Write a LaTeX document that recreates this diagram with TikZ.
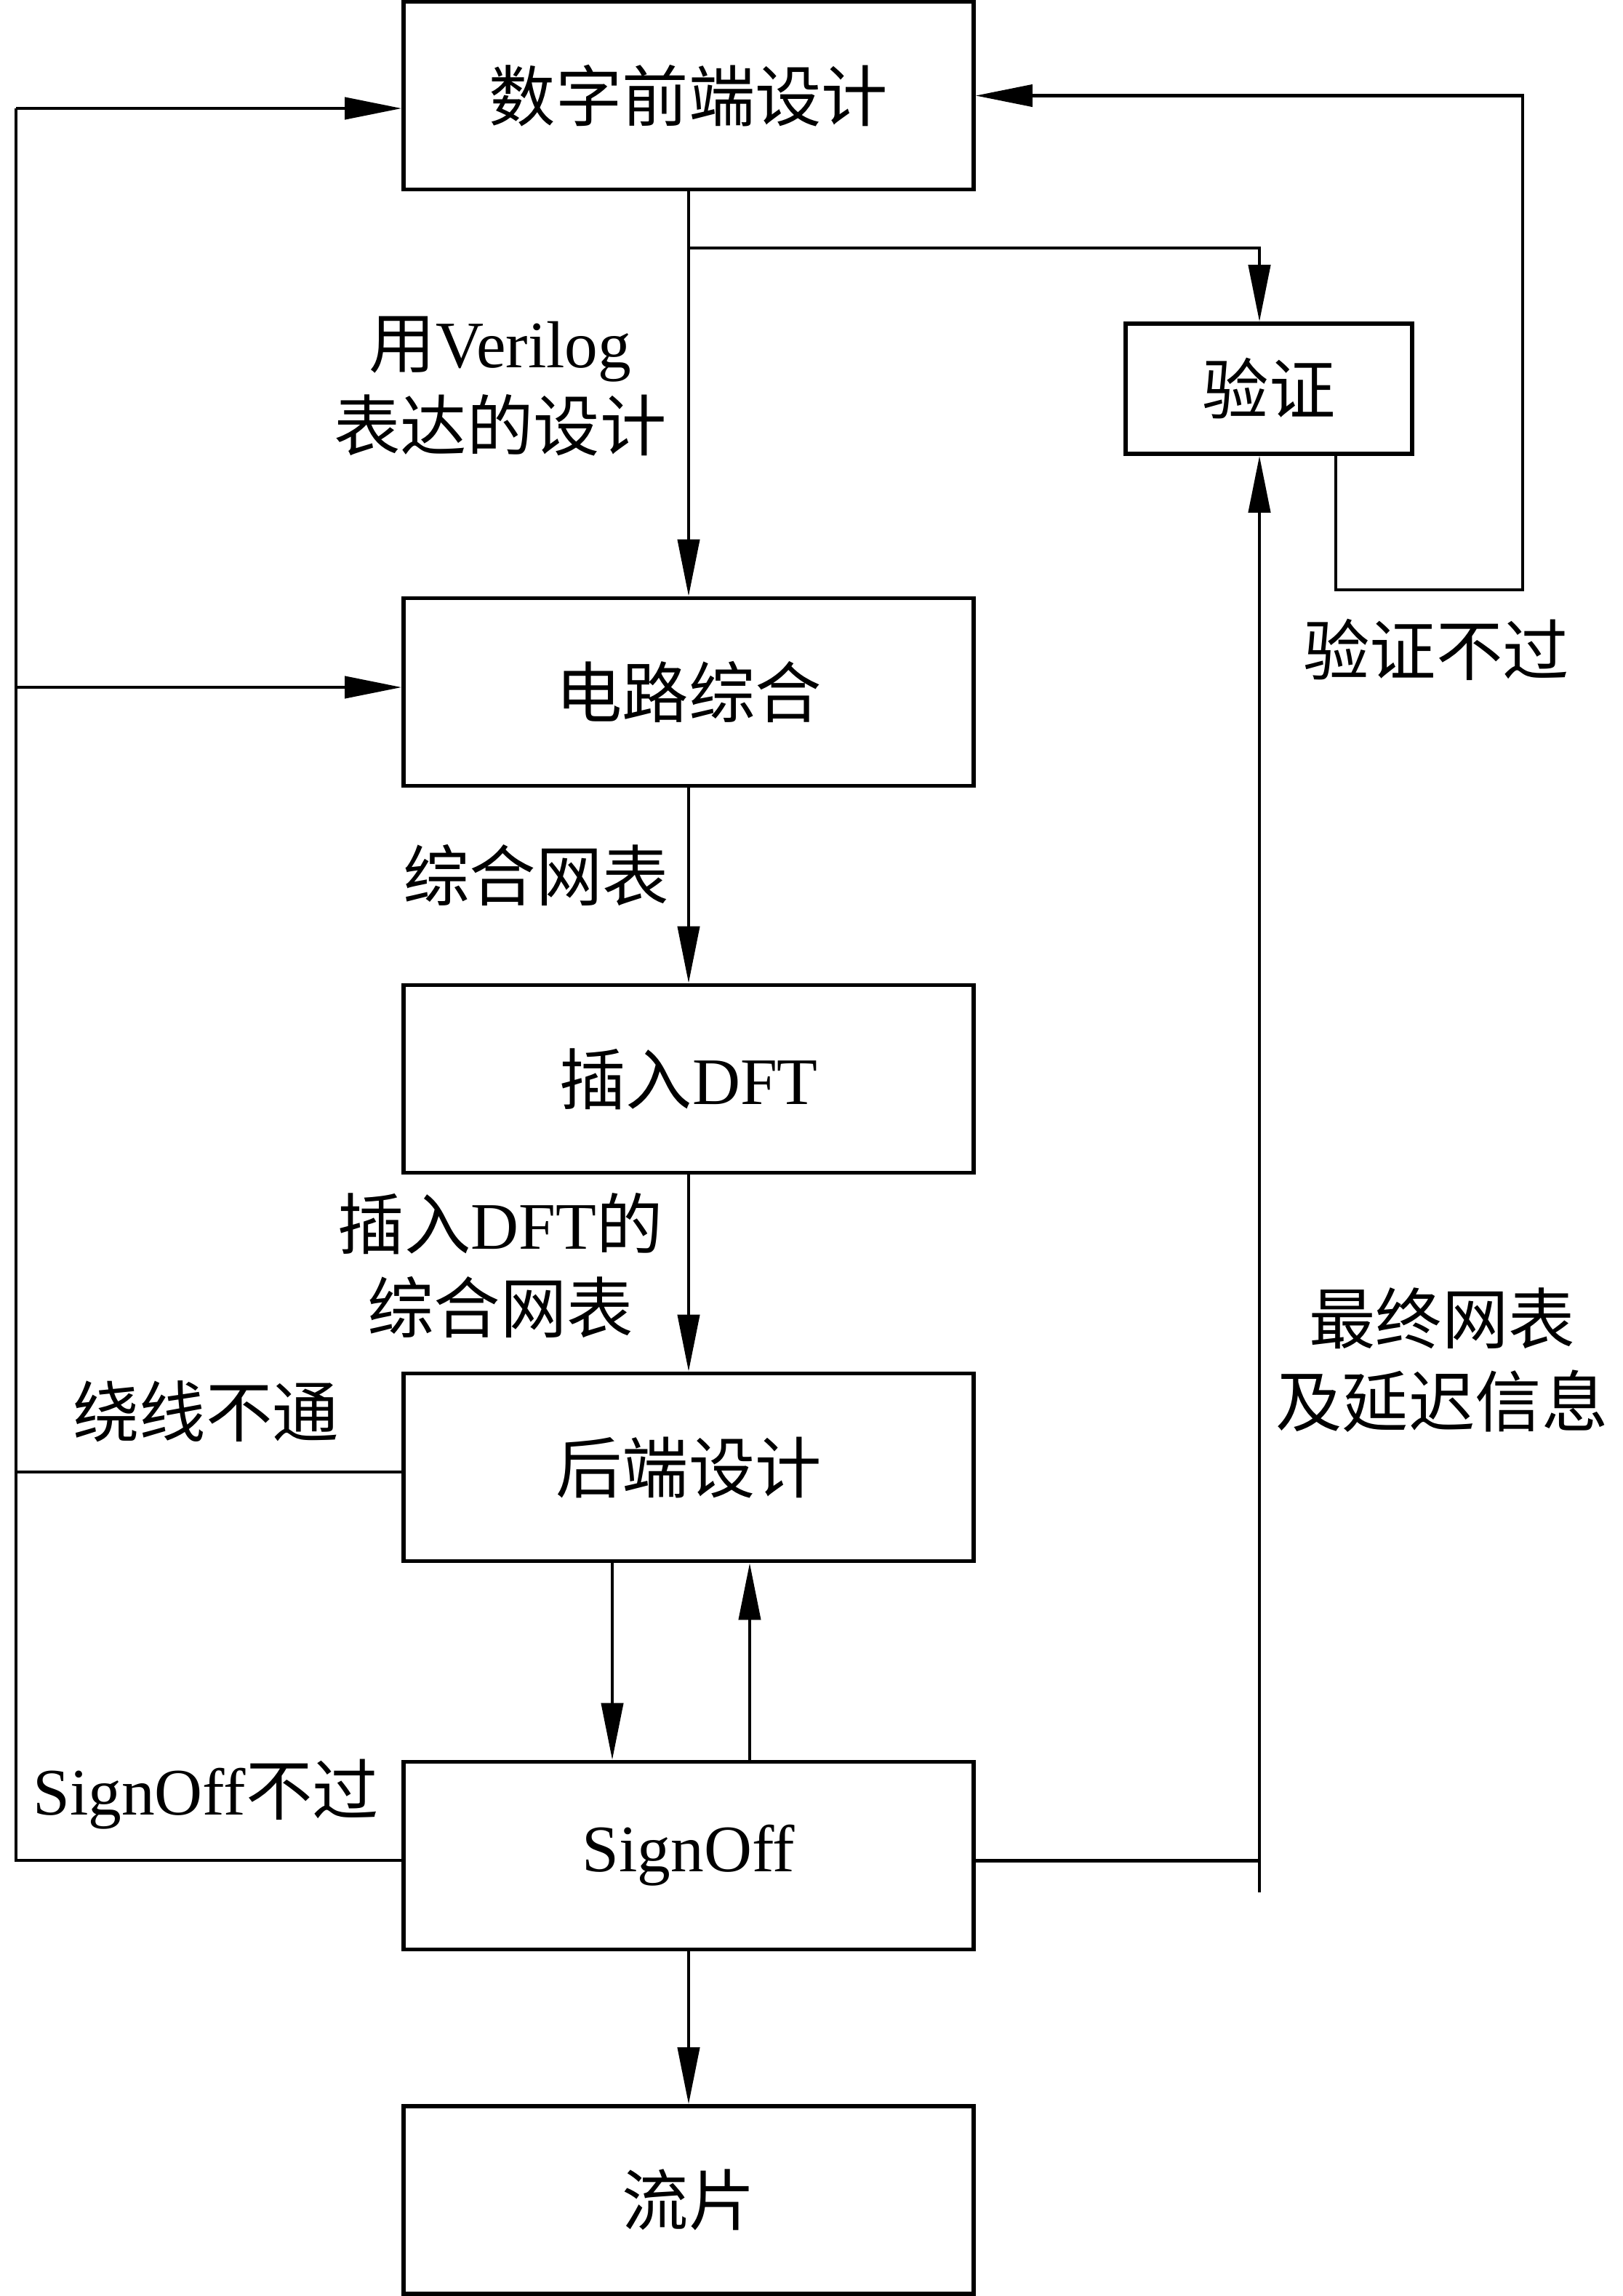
\documentclass[tikz,border=0pt]{standalone}
\usepackage{fontspec}
\setmainfont{Liberation Serif}
\newfontfamily\cjkfont{Noto Sans CJK SC}
\newcommand\zhc[1]{{\cjkfont #1}}
\usetikzlibrary{arrows.meta,calc}
\begin{document}
\begin{tikzpicture}[x=1cm,y=1cm,
  every node/.style={font=\fontsize{26pt}{32.5pt}\selectfont},
  box/.style={draw, line width=1.6pt, minimum width=7.84cm, minimum height=2.58cm, inner sep=0pt},
  conn/.style={line width=1.2pt},
  arr/.style={line width=1.2pt, -{Triangle[length=0.78cm,width=0.30cm]}},
  lbl/.style={align=center, inner sep=0pt}]
\useasboundingbox (0,0) rectangle (22.32,-31.57);
% boxes
\node[box] (fe) at (9.47,-1.315) {\zhc{数字前端设计}};
\node[box] (syn) at (9.47,-9.515) {\zhc{电路综合}};
\node[box] (dft) at (9.47,-14.835) {\zhc{插入}DFT};
\node[box] (be) at (9.47,-20.175) {\zhc{后端设计}};
\node[box] (so) at (9.47,-25.515) {SignOff};
\node[box] (tape) at (9.47,-30.25) {\zhc{流片}};
\node[box, minimum width=3.94cm, minimum height=1.79cm] (ver) at (17.45,-5.345) {\zhc{验证}};
% helper coordinates
\coordinate (lx) at (0.22,0);
\coordinate (vx) at (17.32,0);
\coordinate (br) at (9.47,-3.41);
\coordinate (vl) at (20.94,-8.11);
\coordinate (lt) at (0.22,-1.49);
\coordinate (vb) at (17.32,-26.02);
\coordinate (bew) at ([yshift=-0.065cm]be.west);
\coordinate (sow) at ([yshift=-0.065cm]so.west);
\coordinate (synw) at ([yshift=0.065cm]syn.west);
\coordinate (soe) at ([yshift=-0.07cm]so.east);
% main flow
\draw[arr] (fe.south) -- (syn.north);
\draw[arr] (br) -| (vx |- ver.north);
\draw[arr] ([xshift=0.92cm]ver.south) |- (vl) |- (fe.east);
\draw[arr] (syn.south) -- (dft.north);
\draw[arr] (dft.south) -- (be.north);
\draw[arr] ([xshift=-1.05cm]be.south) -- ([xshift=-1.05cm]so.north);
\draw[arr] ([xshift=0.84cm]so.north) -- ([xshift=0.84cm]be.south);
\draw[arr] (so.south) -- (tape.north);
% left feedback bus
\draw[conn] (sow) -| (lt);
\draw[arr] (lt) -- (lt -| fe.west);
\draw[conn] (bew) -- (lx |- bew);
\draw[arr] (lx |- synw) -- (synw);
% right path to verification
\draw[conn] (soe) -- (vx |- soe);
\draw[arr] (vb) -- (vx |- ver.south);
% labels
\node[lbl] (l1) at (6.88,-5.31) {\zhc{用}Verilog\\\zhc{表达的设计}};
\node[lbl] (l2) at (7.37,-12.03) {\zhc{综合网表}};
\node[lbl] (l3) at (6.88,-17.40) {\zhc{插入}DFT\zhc{的}\\\zhc{综合网表}};
\node[lbl] (l4) at (2.83,-19.41) {\zhc{绕线不通}};
\node[lbl] (l5) at (2.83,-24.67) {SignOff\zhc{不过}};
\node[lbl] (l6) at (19.75,-8.93) {\zhc{验证不过}};
\node[lbl] (l7) at (19.83,-18.70) {\zhc{最终网表}\\\zhc{及延迟信息}};
\end{tikzpicture}
\end{document}
